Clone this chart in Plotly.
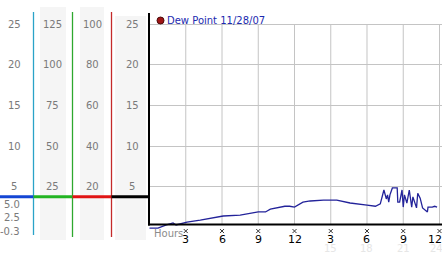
import plotly.graph_objects as go

W, H = 442, 253

# ---- data ----
hours = [0.0, 0.7, 1.4, 1.95, 2.2, 3.1, 4.2, 6.1, 7.5, 9.0, 9.6, 10.0, 11.2, 11.6, 12.0,
         12.7, 13.3, 14.4, 15.5, 16.6, 18.0, 18.7, 19.1, 19.2, 19.4, 19.6, 19.7, 19.8,
         19.9, 20.1, 20.5, 20.55, 20.7, 20.9, 21.0, 21.1, 21.3, 21.5, 21.7, 21.8, 22.1,
         22.2, 22.4, 22.6, 23.0, 23.05, 23.4, 23.6, 23.8]
dew_point = [-0.1, -0.1, 0.3, 0.55, 0.3, 0.65, 0.9, 1.4, 1.5, 1.9, 1.9, 2.25, 2.6, 2.6, 2.5,
             3.1, 3.25, 3.35, 3.35, 3.0, 2.75, 2.6, 2.9, 3.6, 4.6, 3.5, 4.0, 3.1,
             4.0, 4.85, 4.85, 3.1, 3.1, 4.6, 2.5, 4.0, 3.0, 4.6, 2.5, 3.75, 2.4,
             4.2, 3.6, 2.4, 1.9, 2.5, 2.5, 2.6, 2.5]

series_name = "Dew Point 11/28/07"
main_ticks = [25, 20, 15, 10, 5]
col2_ticks = [125, 100, 75, 50, 25]
col3_ticks = [100, 80, 60, 40, 20]
low_ticks = ["5.0", "2.5", "-0.3"]
low_vals = [5.0, 2.5, -0.3]
hour_ticks = [3, 6, 9, 12, 15, 18, 21, 24]
hour_labels = ["3", "6", "9", "12", "3", "6", "9", "12"]
ghost_ticks = [15, 18, 21, 24]
ghost_labels = ["15", "18", "21", "24"]

# ---- geometry helpers (pixel -> paper) ----
def px(x):
    return x / W

def py(y):
    return 1 - y / H

LINE = "#23239a"
GRID = "#c4c4c4"

fig = go.Figure()

fig.add_trace(go.Scatter(x=hours, y=dew_point, mode="lines",
                         line=dict(color=LINE, width=1.3), showlegend=False,
                         hoverinfo="skip", cliponaxis=False))

# small x tick marks on main axes
fig.add_trace(go.Scatter(x=[-0.17] * len(main_ticks), y=main_ticks, mode="markers",
                         marker=dict(symbol="x-thin", size=4, line=dict(width=1, color="#333")),
                         showlegend=False, hoverinfo="skip", cliponaxis=False))
fig.add_trace(go.Scatter(x=hour_ticks, y=[-0.45] * len(hour_ticks), mode="markers",
                         marker=dict(symbol="x-thin", size=4, line=dict(width=1, color="#333")),
                         showlegend=False, hoverinfo="skip", cliponaxis=False))

shapes = []
# grey column backgrounds
for x0, x1, y0 in [(40, 66, 7), (80, 104, 7), (115, 146, 16)]:
    shapes.append(dict(type="rect", xref="paper", yref="paper", x0=px(x0), x1=px(x1),
                       y0=py(240), y1=py(y0), fillcolor="#f5f5f5", line=dict(width=0),
                       layer="below"))
# vertical grid lines
for h in hour_ticks:
    shapes.append(dict(type="line", xref="x", yref="paper", x0=h, x1=h,
                       y0=py(224.5), y1=py(24), line=dict(color=GRID, width=1), layer="below"))
# coloured vertical scale lines
for x, c, yb in [(33.5, "#2aa3c8", 235), (72.5, "#2ea82e", 237), (111.5, "#c42a2a", 237)]:
    shapes.append(dict(type="line", xref="paper", yref="paper", x0=px(x), x1=px(x),
                       y0=py(yb), y1=py(12), line=dict(color=c, width=1.3)))
# coloured horizontal band
for x0, x1, c in [(0, 33.5, "#1446d4"), (33.5, 72.5, "#22b422"), (72.5, 111.5, "#e01414"),
                  (111.5, 149, "#000000")]:
    shapes.append(dict(type="line", xref="paper", yref="paper", x0=px(x0), x1=px(x1),
                       y0=py(196.8), y1=py(196.8), line=dict(color=c, width=3)))
# black axes
shapes.append(dict(type="line", xref="paper", yref="paper", x0=px(149), x1=px(149),
                   y0=py(225.5), y1=py(13), line=dict(color="black", width=2)))
shapes.append(dict(type="line", xref="paper", yref="paper", x0=px(148), x1=px(442),
                   y0=py(224.5), y1=py(224.5), line=dict(color="black", width=2)))
# legend dot
shapes.append(dict(type="circle", xref="paper", yref="paper", x0=px(157), x1=px(164),
                   y0=py(24), y1=py(17), fillcolor="#a01515",
                   line=dict(color="#4a0a0a", width=1)))

ann = []
FONT = "DejaVu Sans"
C = dict(showarrow=False, xanchor="center", yanchor="middle")
GREY = "#7a7a7a"
for v in main_ticks:
    ann.append(dict(x=px(14), y=v, xref="paper", yref="y", text=str(v),
                    font=dict(family=FONT, size=10, color=GREY), **C))
    ann.append(dict(x=px(132), y=v, xref="paper", yref="y", text=str(v),
                    font=dict(family=FONT, size=10, color=GREY), **C))
for v in col2_ticks:
    ann.append(dict(x=px(52.5), y=v / 5, xref="paper", yref="y", text=str(v),
                    font=dict(family=FONT, size=10, color=GREY), **C))
for v in col3_ticks:
    ann.append(dict(x=px(92.5), y=v / 4, xref="paper", yref="y", text=str(v),
                    font=dict(family=FONT, size=10, color=GREY), **C))
for t, v in zip(low_ticks, low_vals):
    ann.append(dict(x=px(22), y=v, xref="paper", yref="y2", text=t,
                    font=dict(family=FONT, size=10, color=GREY),
                    showarrow=False, xanchor="right", yanchor="middle"))
for h, t in zip(hour_ticks, hour_labels):
    ann.append(dict(x=h, y=py(239.5), xref="x", yref="paper", text=t,
                    xshift=-4 if h == 24 else 0,
                    font=dict(family=FONT, size=11, color="#000000"), **C))
for h, t in zip(ghost_ticks, ghost_labels):
    ann.append(dict(x=h, y=py(248), xref="x", yref="paper", text=t,
                    xshift=-3 if h == 24 else 0,
                    font=dict(family=FONT, size=10, color="#e6e6e6"), **C))
ann.append(dict(x=px(152), y=py(233), xref="paper", yref="paper", text="Hours",
                showarrow=False, xanchor="left", yanchor="middle",
                font=dict(family=FONT, size=10, color="#8c8c8c")))
ann.append(dict(x=px(164.5), y=py(20.5), xref="paper", yref="paper", text=series_name,
                showarrow=False, xanchor="left", yanchor="middle",
                font=dict(family=FONT, size=10, color="#1c2ab0")))

x_lo = (149 - 149.5) / 12.083
x_hi = (442 - 149.5) / 12.083
y_lo = (227.4 - 240) / 8.13
y_hi = (227.4 - 13) / 8.13

fig.update_layout(
    width=W, height=H, margin=dict(l=0, r=0, t=0, b=0),
    paper_bgcolor="white", plot_bgcolor="rgba(0,0,0,0)",
    xaxis=dict(domain=[px(149), 1], range=[x_lo, x_hi], showgrid=False, zeroline=False,
               showticklabels=False, showline=False),
    yaxis=dict(domain=[py(240), py(13)], range=[y_lo, y_hi], tickvals=main_ticks,
               showgrid=True, gridcolor=GRID, gridwidth=1, zeroline=False,
               showticklabels=False, showline=False),
    yaxis2=dict(domain=[py(240), py(197)], range=[5 - 36 / 5.28, 5 + 7 / 5.28],
                anchor="x", visible=False),
    shapes=shapes, annotations=ann, showlegend=False,
)

fig.write_html("out.html")
